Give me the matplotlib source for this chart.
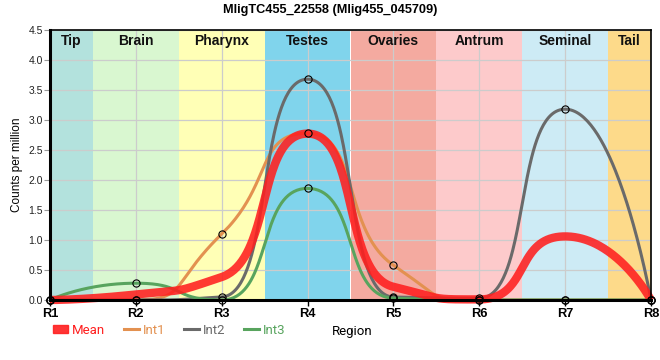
import matplotlib
matplotlib.use("Agg")
import matplotlib.pyplot as plt
import matplotlib.transforms as mtransforms
from matplotlib.lines import Line2D
from matplotlib.patches import Patch
import numpy as np

TITLE = "MligTC455_22558 (Mlig455_045709)"
REGIONS = ["R1", "R2", "R3", "R4", "R5", "R6", "R7", "R8"]
TISSUES = ["Tip", "Brain", "Pharynx", "Testes", "Ovaries", "Antrum", "Seminal", "Tail"]
TISSUE_EDGES = [1, 1.5, 2.5, 3.5, 4.5, 5.5, 6.5, 7.5, 8]
TISSUE_COLORS = ["#b3e2dd", "#d9f7d0", "#ffffb6", "#80d4ec",
                 "#f4aaa0", "#fdcacb", "#cdebf5", "#fdda8a"]

mean = [0.0, 0.093, 0.383, 2.773, 0.22, 0.01, 1.06, 0.0]
int1 = [0.0, 0.0, 1.10, 2.78, 0.58, 0.0, 0.0, 0.0]
int2 = [0.0, 0.0, 0.05, 3.68, 0.05, 0.03, 3.18, 0.0]
int3 = [0.0, 0.28, 0.0, 1.86, 0.03, 0.0, 0.0, 0.0]

SERIES_COLORS = {"Mean": "#ff1f1f", "Int1": "#e39150", "Int2": "#6a6a6a", "Int3": "#58a45e"}


def spline(xs, ys, smoothing=2 / 3, n=80):
    """Bezier spline through the points; control points clamped at extrema."""
    xs = list(map(float, xs))
    ys = list(map(float, ys))
    cnt = len(xs)
    left = [(x, y) for x, y in zip(xs, ys)]
    right = [(x, y) for x, y in zip(xs, ys)]
    denom = smoothing + 1
    for i in range(1, cnt - 1):
        px, py = xs[i], ys[i]
        lx, ly = xs[i - 1], ys[i - 1]
        nx, ny = xs[i + 1], ys[i + 1]
        lcx = (smoothing * px + lx) / denom
        lcy = (smoothing * py + ly) / denom
        rcx = (smoothing * px + nx) / denom
        rcy = (smoothing * py + ny) / denom
        corr = (rcy - lcy) * (rcx - px) / (rcx - lcx) + py - rcy
        lcy += corr
        rcy += corr
        if lcy > ly and lcy > py:
            lcy = max(ly, py)
            rcy = 2 * py - lcy
        elif lcy < ly and lcy < py:
            lcy = min(ly, py)
            rcy = 2 * py - lcy
        if rcy > ny and rcy > py:
            rcy = max(ny, py)
            lcy = 2 * py - rcy
        elif rcy < ny and rcy < py:
            rcy = min(ny, py)
            lcy = 2 * py - rcy
        left[i] = (lcx, lcy)
        right[i] = (rcx, rcy)
    t = np.linspace(0, 1, n)[:, None]
    out = []
    for i in range(cnt - 1):
        p0 = np.array([xs[i], ys[i]])
        p1 = np.array(right[i])
        p2 = np.array(left[i + 1])
        p3 = np.array([xs[i + 1], ys[i + 1]])
        seg = ((1 - t) ** 3) * p0 + 3 * ((1 - t) ** 2) * t * p1 + 3 * (1 - t) * t ** 2 * p2 + t ** 3 * p3
        out.append(seg if i == 0 else seg[1:])
    out = np.vstack(out)
    return out[:, 0], out[:, 1]


fig = plt.figure(figsize=(6.6, 3.6), dpi=100)
ax = fig.add_axes([50 / 660, 60 / 360, 601 / 660, 270 / 360])

x = np.arange(1, len(REGIONS) + 1)

for lo, hi, col in zip(TISSUE_EDGES[:-1], TISSUE_EDGES[1:], TISSUE_COLORS):
    ax.axvspan(lo, hi, color=col, lw=0, zorder=0)

trans = mtransforms.blended_transform_factory(ax.transData, ax.transAxes)
for lo, hi, name in zip(TISSUE_EDGES[:-1], TISSUE_EDGES[1:], TISSUES):
    ax.text((lo + hi) / 2, 0.958, name, transform=trans, ha="center", va="center",
            fontsize=10, fontweight="bold", family="Liberation Sans", color="#111111", zorder=5)

ax.grid(True, color="#cccccc", lw=0.9, zorder=1)
ax.set_axisbelow(True)

for vals, name in [(int1, "Int1"), (int2, "Int2"), (int3, "Int3")]:
    sx, sy = spline(x, vals)
    ax.plot(sx, sy, color=SERIES_COLORS[name], lw=2.2, zorder=3, solid_capstyle="round")

sx, sy = spline(x, mean)
ax.plot(sx, sy, color=SERIES_COLORS["Mean"], lw=6, alpha=0.88, zorder=4,
        solid_capstyle="butt", clip_on=False)

for vals in (int1, int2, int3):
    ax.plot(x, vals, ls="none", marker="o", ms=5.2, mfc="none", mec="black", mew=0.8,
            zorder=6, clip_on=False)

ax.set_xlim(1, 8)
ax.set_ylim(0, 4.5)
ax.set_xticks(x)
ax.set_xticklabels(REGIONS, fontsize=9.3, fontweight="bold", family="Liberation Sans")
ax.set_yticks(np.arange(0, 4.51, 0.5))
ax.set_yticklabels([f"{v:.1f}" for v in np.arange(0, 4.51, 0.5)],
                   fontsize=7.5, family="Liberation Sans", color="#222222")
ax.tick_params(axis="x", length=4, width=1, color="black", pad=2)
ax.tick_params(axis="y", length=4, width=0.8, color="#999999", pad=1)

for side in ("left", "bottom"):
    ax.spines[side].set_linewidth(2.2)
for side in ("top", "right"):
    ax.spines[side].set_linewidth(1.2)
for sp in ax.spines.values():
    sp.set_color("black")
    sp.set_zorder(5)

fig.text(0.5, 1 - 10 / 360, TITLE, ha="center", va="center", fontsize=9.2,
         fontweight="bold", family="Liberation Sans")
fig.text(17 / 660, 1 - 165 / 360, "Counts per million", rotation=90, ha="center",
         va="center", fontsize=8.5, family="Liberation Sans")
fig.text(352 / 660, 1 - 331 / 360, "Region", ha="center", va="center",
         fontsize=9.5, family="Roboto")

handles = [Patch(color=SERIES_COLORS["Mean"], alpha=0.9)]
handles += [Line2D([], [], color=SERIES_COLORS[n], lw=2.2) for n in ("Int1", "Int2", "Int3")]
labels = ["Mean", "Int1", "Int2", "Int3"]
leg = fig.legend(handles, labels, loc="center left", bbox_to_anchor=(53 / 660, 1 - 330 / 360),
                 ncol=4, frameon=False, handlelength=1.15, handleheight=0.55, handletextpad=0.3,
                 columnspacing=1.4, borderpad=0, borderaxespad=0,
                 prop={"family": "Roboto", "size": 9.5})
for txt, name in zip(leg.get_texts(), labels):
    txt.set_color(SERIES_COLORS[name])

fig.savefig("out.png", dpi=100)
